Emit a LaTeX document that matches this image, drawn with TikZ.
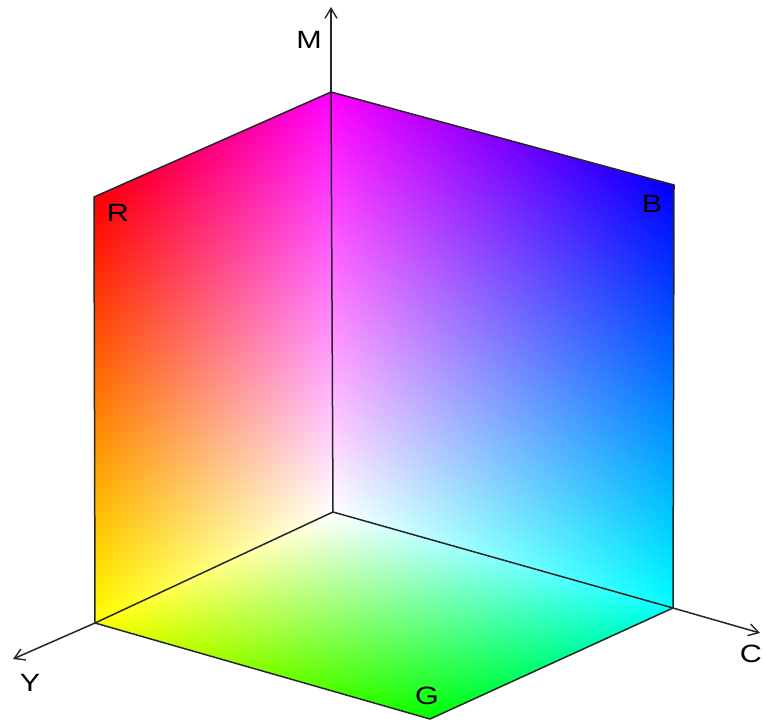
\documentclass[tikz,border=0pt]{standalone}
\usepackage{graphicx}
\usepackage{fontspec}
\setmainfont{Liberation Sans}
\usetikzlibrary{arrows.meta}
% colour cube faces: the box is 100bp wide; the cube face occupies 10..90 of it
\pgfdeclarefunctionalshading{faceleft}{\pgfpoint{0bp}{0bp}}{\pgfpoint{100bp}{100bp}}{}{
  90 exch sub 80 div exch 90 exch sub 80 div 1 3 1 roll }
\pgfdeclarefunctionalshading{faceright}{\pgfpoint{0bp}{0bp}}{\pgfpoint{100bp}{100bp}}{}{
  90 exch sub 80 div exch 90 exch sub 80 div exch 1 }
\pgfdeclarefunctionalshading{facebottom}{\pgfpoint{0bp}{0bp}}{\pgfpoint{100bp}{100bp}}{}{
  90 exch sub 80 div exch 90 exch sub 80 div exch 1 exch }
\newcommand\cubeface[7]{%
  \begin{pgfscope}%
  \pgfmathsetmacro\fa{(#4-#2)/80}\pgfmathsetmacro\fb{-(#5-#3)/80}%
  \pgfmathsetmacro\fc{(#6-#2)/80}\pgfmathsetmacro\fd{-(#7-#3)/80}%
  \pgfmathsetmacro\fe{#2+0.5*(#4-#2)+0.5*(#6-#2)}\pgfmathsetmacro\ff{-(#3+0.5*(#5-#3)+0.5*(#7-#3))}%
  \pgftransformcm{\fa}{\fb}{\fc}{\fd}{\pgfpoint{\fe bp}{\ff bp}}%
  \pgflowlevelsynccm
  \pgfuseshading{#1}%
  \end{pgfscope}}
\tikzset{
  edge/.style={draw=black!85, line width=1.5bp},
  axis/.style={edge, -{Straight Barb[length=10bp,width=12bp,line width=1.4bp]}},
  lab/.style={inner sep=0pt, font=\fontsize{25bp}{25bp}\selectfont, text=black},
}
\newcommand\widelab[1]{\scalebox{1.22}[1]{#1}}
\begin{document}
\begin{tikzpicture}[x=1bp,y=-1bp]
\useasboundingbox (0,0) rectangle (763,724);
\coordinate (W) at (333,512);
\coordinate (M) at (331,92);
\coordinate (R) at (94,197);
\coordinate (Y) at (95,623);
\coordinate (G) at (430,719);
\coordinate (C) at (673,608);
\coordinate (B) at (674,185);
\coordinate (Mend) at (331,7);
\coordinate (Yend) at (13,659);
\coordinate (Cend) at (760,633);
\begin{scope}
  \clip (W) -- (Y) -- (R) -- (M) -- cycle;
  \cubeface{faceleft}{333}{512}{95}{623}{331}{92}
\end{scope}
\begin{scope}
  \clip (W) -- (C) -- (B) -- (M) -- cycle;
  \cubeface{faceright}{333}{512}{673}{608}{331}{92}
\end{scope}
\begin{scope}
  \clip (W) -- (C) -- (G) -- (Y) -- cycle;
  \cubeface{facebottom}{333}{512}{673}{608}{95}{623}
\end{scope}
\draw[edge, line join=round] (M) -- (R) -- (Y) -- (G) -- (C) -- (B) -- (M);
\draw[edge] (W) -- (Y) (W) -- (C) (W) -- (M);
\draw[axis] (M) -- (Mend);
\draw[axis] (Y) -- (Yend);
\draw[axis] (C) -- (Cend);
\node[lab] (lM) at (309,40) {\widelab{M}};
\node[lab] (lY) at (30,683) {\widelab{Y}};
\node[lab] (lC) at (751,654) {\widelab{C}};
\node[lab] (lG) at (427,696) {\widelab{G}};
\node[lab] (lR) at (118,213) {\widelab{R}};
\node[lab] (lB) at (652,204) {\widelab{B}};
\end{tikzpicture}
\end{document}
